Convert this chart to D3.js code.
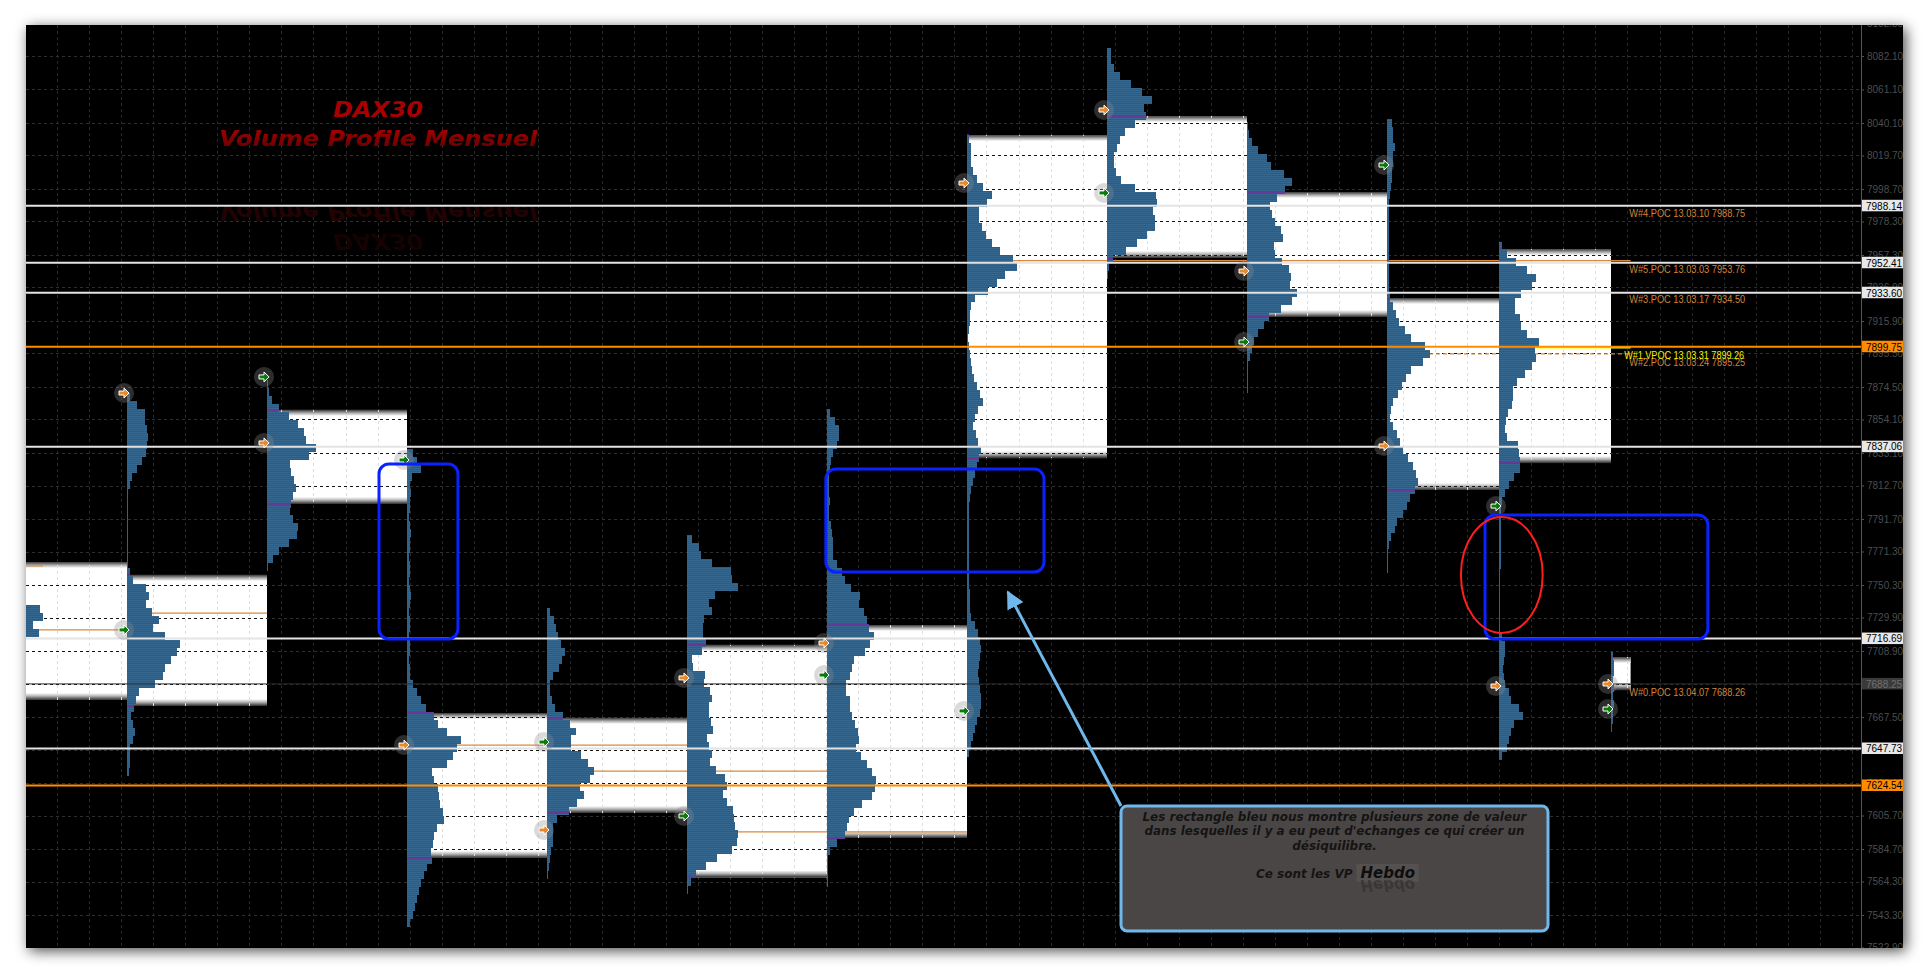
<!DOCTYPE html>
<html>
<head>
<meta charset="utf-8">
<script src="https://cdn.jsdelivr.net/npm/d3@7/dist/d3.min.js"></script>
<style>
  html, body { margin:0; padding:0; background:#ffffff; overflow:hidden; }
  svg { display:block; }
</style>
</head>
<body>
<svg id="chart" width="1931" height="974"></svg>
<script>
// ================= DATA =================
// right price-axis tick labels
const tickValues = [8102.50, 8082.10, 8061.10, 8040.10, 8019.70, 7998.70, 7978.30, 7957.30, 7936.90,
  7915.90, 7895.50, 7874.50, 7854.10, 7833.10, 7812.70, 7791.70, 7771.30, 7750.30, 7729.90, 7708.90,
  7688.50, 7667.50, 7647.10, 7626.10, 7605.70, 7584.70, 7564.30, 7543.30, 7522.90];

// weekly volume profiles (trading-day index of start / end of each week)
const periodStart = [-5, 0, 5, 10, 15, 20, 25, 30, 35, 40, 45, 49, 53];
const periodEnd   = [0, 5, 10, 15, 20, 25, 30, 35, 40, 45, 49, 53, 53.7];
// value area high / low of each week
const vaHigh = [7764.7, 7756.6, 7860.1, 7670.0, 7666.9, 7712.7, 7725.2, 8032.5, 8044.4, 7996.8, 7930.3, 7961.0, 7705.1];
const vaLow  = [7678.2, 7674.4, 7801.1, 7579.1, 7607.3, 7566.9, 7591.6, 7829.9, 7955.4, 7918.4, 7809.9, 7826.8, 7684.4];
// highest price level of each histogram
const histTop = [7742.8, 7870.7, 7878.9, 7835.6, 7735.9, 7781.6, 7860.7, 8032.5, 8087.1, 8040.7, 8042.6, 7965.4, 7708.3];
const binSize = 5; // points per histogram row
// open / close of each week
const openPrice  = [null, 7722.1, 7880.8, 7828.7, 7651.8, 7605.4, 7693.8, 7671.3, 7996.2, 7902.7, 8013.7, 7799.8, 7672.5];
const closePrice = [null, 7870.7, 7839.4, 7649.9, 7596.6, 7692.0, 7713.9, 8002.4, 8048.2, 7947.2, 7837.5, 7686.9, 7688.2];

// volume per price row, top to bottom
const vol0  = [30, 53, 56, 46, 52, 30, 20, 10];
const vol1  = [3,10,18,18,20,21,20,19,15,10,5,3,1,1,1,1,1,1,1,1,1,1,3,6,19,22,19,25,32,26,38,53,50,44,38,36,28,12,9,7,4,6,8,6,3,3,3,2];
const vol2  = [1,2,5,12,22,31,37,39,49,42,23,24,27,29,26,24,23,26,31,30,22,12,6,1];
const vol3  = [6,10,14,5,3,4,3,3,2,3,4,3,3,2,3,3,2,3,4,3,2,3,3,2,3,3,2,3,3,6,10,14,19,27,31,40,54,50,46,40,25,27,31,32,33,36,37,30,27,26,24,25,20,17,14,12,10,8,6,3];
const vol4  = [3,7,9,11,14,18,15,12,6,3,3,5,8,16,23,29,24,24,34,41,47,43,33,37,30,22,10,6,6,6,4,3,2,1];
const vol5  = [5,12,14,25,44,45,51,28,22,25,17,16,16,19,15,5,6,18,17,23,25,22,22,24,26,20,22,25,23,29,38,40,36,40,46,47,48,51,50,45,30,19,9,4,1];
const vol6  = [3,8,12,12,10,6,4,3,2,2,2,3,2,2,4,5,6,6,6,10,15,18,24,33,32,37,40,42,47,43,38,27,25,23,19,19,23,23,25,28,31,32,29,34,40,45,49,48,45,35,27,22,20,18,10,3,1,1,1,1];
const vol7  = [2,4,4,4,6,10,16,25,20,12,12,15,19,25,33,46,50,38,30,21,8,4,3,3,2,1,2,3,4,5,7,10,13,16,11,8,6,9,11,14,12,
               10,8,6,4,3,2,2,2,2,2,2,2,2,2,2,2,3,3,3,4,8,11,13,14,13,12,11,12,13,14,14,13,10,8,6,4,2];
const vol8  = [4,4,7,13,24,35,45,37,39,28,18,13,10,7,7,9,14,28,49,50,46,48,48,40,30,19,6,2,1];
const vol9  = [1,2,5,11,20,24,37,45,38,30,23,25,28,34,36,27,28,35,42,44,43,50,45,34,22,17,11,7,5,3,1,1,1,1];
const vol10 = [5,6,6,8,6,6,5,5,4,3,2,2,2,2,2,2,2,2,2,2,2,2,3,6,9,12,18,24,38,43,36,24,19,15,11,6,4,3,6,10,13,16,21,26,29,31,28,23,20,16,10,8,4,2,1,1,1];
const vol11 = [3,8,17,28,37,33,22,16,16,21,22,28,40,36,37,33,26,18,14,14,13,9,7,6,8,19,20,21,21,15,10,6,3,2,2,2,2,2,2,2,2,1,1,1,1,1,1,1,1,3,6,6,5,4,5,6,10,12,20,24,15,12,10,8,3];
const vol12 = [2,3,3,2,3,2,3,2,2,1];
const volumes = [vol0, vol1, vol2, vol3, vol4, vol5, vol6, vol7, vol8, vol9, vol10, vol11, vol12];

// horizontal reference levels across the whole chart
const levelPrice = [7988.14, 7952.41, 7933.60, 7899.75, 7837.06, 7716.69, 7688.25, 7647.73, 7624.54];
const levelKind  = ['white', 'white', 'white', 'orange', 'white', 'white', 'dark', 'white', 'orange'];

// POC segments
const pocSegPrice = [7762.2, 7722.1, 7732.7, 7649.9, 7633.6, 7595.4, 7953.76, 7895.25, 7899.26];
const pocSegFrom  = [-5, -5, 0, 10, 15, 20, 30, 45, 49];
const pocSegTo    = [-3, 0, 5, 20, 25, 30, 53.7, 53.7, 53.7];
const pocSegKind  = ['poc', 'poc', 'poc', 'poc', 'poc', 'poc', 'poc', 'dash', 'vpoc'];

// POC labels (right side)
const pocLabelText  = ['W#4.POC 13.03.10 7988.75', 'W#5.POC 13.03.03 7953.76', 'W#3.POC 13.03.17 7934.50',
                       'W#2.POC 13.03.24 7895.25', 'W#1.VPOC 13.03.31 7899.26', 'W#0.POC 13.04.07 7688.26'];
const pocLabelPrice = [7988.75, 7953.76, 7934.50, 7895.25, 7899.26, 7688.26];
const pocLabelKind  = ['poc', 'poc', 'poc', 'poc', 'vpoc', 'poc'];

// texts
const titleLines = ['DAX30', 'Volume Profile Mensuel'];
const noteLines = ['Les rectangle bleu nous montre plusieurs zone de valeur',
                   "dans lesquelles il y a eu peut d'echanges ce qui créer un",
                   'désiquilibre.'];
const noteLast = ['Ce sont les VP', 'Hebdo'];

// annotation shapes in data space (trading day / price)
const blueBoxDay0   = [9.0, 24.96, 48.5];
const blueBoxDay1   = [11.82, 32.75, 56.46];
const blueBoxPrice0 = [7826.2, 7823.0, 7794.2];
const blueBoxPrice1 = [7716.4, 7758.4, 7716.4];

// ================= CHART =================
const svg = d3.select('#chart');
const frame = {x0: 26, y0: 25, x1: 1903, y1: 948};
const plotRight = 1861;

const x = d3.scaleLinear().domain([0, 54]).range([127, 1639]);
const y = d3.scaleLinear().domain([7543.3, 8082.1]).range([915, 56]);
const vx = d3.scaleLinear().domain([0, 100]).range([0, 100]);

const defs = svg.append('defs');
const sh = defs.append('filter').attr('id', 'shadow')
  .attr('x', '-3%').attr('y', '-5%').attr('width', '106%').attr('height', '110%');
sh.append('feDropShadow').attr('dx', 3).attr('dy', 3).attr('stdDeviation', 7)
  .attr('flood-color', '#000').attr('flood-opacity', 0.7);

defs.append('clipPath').attr('id', 'plotClip').append('rect')
  .attr('x', frame.x0).attr('y', frame.y0).attr('width', plotRight - frame.x0).attr('height', frame.y1 - frame.y0);
defs.append('clipPath').attr('id', 'frameClip').append('rect')
  .attr('x', frame.x0).attr('y', frame.y0).attr('width', frame.x1 - frame.x0).attr('height', frame.y1 - frame.y0);

const pat = defs.append('pattern').attr('id', 'histPat').attr('width', 4).attr('height', 2)
  .attr('patternUnits', 'userSpaceOnUse');
pat.append('rect').attr('width', 4).attr('height', 2).attr('fill', '#35678f');
pat.append('rect').attr('y', 1).attr('width', 4).attr('height', 1).attr('fill', '#2d5b82');

const gTop = defs.append('linearGradient').attr('id', 'vaTop').attr('x1', 0).attr('y1', 0).attr('x2', 0).attr('y2', 1);
gTop.append('stop').attr('offset', 0).attr('stop-color', '#3a3a3a');
gTop.append('stop').attr('offset', 0.5).attr('stop-color', '#a8a8a8');
gTop.append('stop').attr('offset', 1).attr('stop-color', '#ffffff');
const gBot = defs.append('linearGradient').attr('id', 'vaBot').attr('x1', 0).attr('y1', 0).attr('x2', 0).attr('y2', 1);
gBot.append('stop').attr('offset', 0).attr('stop-color', '#ffffff');
gBot.append('stop').attr('offset', 0.45).attr('stop-color', '#b4b4b4');
gBot.append('stop').attr('offset', 1).attr('stop-color', '#2c2c2c');
const gTitle = defs.append('linearGradient').attr('id', 'titleGrad').attr('x1', 0).attr('y1', 0).attr('x2', 0).attr('y2', 1);
gTitle.append('stop').attr('offset', 0).attr('stop-color', '#b00000');
gTitle.append('stop').attr('offset', 1).attr('stop-color', '#5e0000');

const arrowM = defs.append('marker').attr('id', 'noteArrow').attr('viewBox', '0 0 10 10')
  .attr('refX', 9).attr('refY', 5).attr('markerWidth', 6).attr('markerHeight', 6)
  .attr('orient', 'auto').attr('markerUnits', 'strokeWidth');
arrowM.append('path').attr('d', 'M0,0 L10,5 L0,10 Z').attr('fill', '#70b8ec');

// box clip for on-box grid
const boxClip = defs.append('clipPath').attr('id', 'boxClip');
volumes.forEach((v, i) => {
  boxClip.append('rect').attr('x', x(periodStart[i])).attr('y', y(vaHigh[i]))
    .attr('width', x(periodEnd[i]) - x(periodStart[i])).attr('height', y(vaLow[i]) - y(vaHigh[i]));
});

// frame
svg.append('rect').attr('x', 0).attr('y', 0).attr('width', 1931).attr('height', 974).attr('fill', '#ffffff');
svg.append('rect').attr('x', frame.x0).attr('y', frame.y0)
  .attr('width', frame.x1 - frame.x0).attr('height', frame.y1 - frame.y0)
  .attr('fill', '#030303').attr('filter', 'url(#shadow)');

const plot = svg.append('g').attr('clip-path', 'url(#plotClip)');

// grid
const vGridX = d3.range(frame.x0 - 1 + 32.05, plotRight, 32.05);
function drawGrid(g, vColor, hColor) {
  g.selectAll('line.v').data(vGridX).join('line').attr('class', 'v')
    .attr('x1', d => Math.round(d) + 0.5).attr('x2', d => Math.round(d) + 0.5)
    .attr('y1', frame.y0).attr('y2', frame.y1)
    .attr('stroke', vColor).attr('stroke-width', 1).attr('stroke-dasharray', '3,3');
  g.selectAll('line.h').data(tickValues).join('line').attr('class', 'h')
    .attr('x1', frame.x0).attr('x2', plotRight)
    .attr('y1', d => Math.round(y(d)) + 0.5).attr('y2', d => Math.round(y(d)) + 0.5)
    .attr('stroke', hColor).attr('stroke-width', 1).attr('stroke-dasharray', '3,3');
}
drawGrid(plot.append('g'), '#272727', '#2e2e2e');

// title + reflection
const titleG = plot.append('g').attr('font-family', "'DejaVu Sans', Verdana, sans-serif")
  .attr('font-weight', 'bold').attr('font-style', 'italic').attr('text-anchor', 'middle');
const titleX = 378, titleBase = [117, 146], titleSize = [22, 22], titleLen = [90, 318];
const refl = titleG.append('g').attr('transform', 'translate(0,351) scale(1,-1)');
titleLines.forEach((t, i) => {
  refl.append('text').attr('x', titleX).attr('y', titleBase[i]).attr('font-size', titleSize[i])
    .attr('textLength', titleLen[i]).attr('lengthAdjust', 'spacingAndGlyphs')
    .attr('fill', i === 0 ? '#160202' : '#220303').text(t);
});
titleLines.forEach((t, i) => {
  titleG.append('text').attr('x', titleX).attr('y', titleBase[i]).attr('font-size', titleSize[i])
    .attr('textLength', titleLen[i]).attr('lengthAdjust', 'spacingAndGlyphs')
    .attr('fill', i === 0 ? '#a80000' : 'url(#titleGrad)').text(t);
});

// value-area boxes
const boxG = plot.append('g');
volumes.forEach((v, i) => {
  const x0 = x(periodStart[i]), x1 = x(periodEnd[i]);
  const yT = y(vaHigh[i]), yB = y(vaLow[i]);
  boxG.append('rect').attr('x', x0).attr('y', yT).attr('width', x1 - x0).attr('height', yB - yT).attr('fill', '#ffffff');
  boxG.append('rect').attr('x', x0).attr('y', yT).attr('width', x1 - x0).attr('height', 6).attr('fill', 'url(#vaTop)');
  boxG.append('rect').attr('x', x0).attr('y', yB - 7).attr('width', x1 - x0).attr('height', 7).attr('fill', 'url(#vaBot)');
});
drawGrid(plot.append('g').attr('clip-path', 'url(#boxClip)'), '#dedede', '#141414');

// POC segments
pocSegPrice.forEach((p, i) => {
  const k = pocSegKind[i];
  plot.append('line')
    .attr('x1', x(pocSegFrom[i])).attr('x2', x(pocSegTo[i]))
    .attr('y1', y(p)).attr('y2', y(p))
    .attr('stroke', k === 'vpoc' ? '#ffff00' : '#d8893f')
    .attr('stroke-width', k === 'vpoc' ? 2 : 1.2)
    .attr('stroke-dasharray', k === 'dash' ? '4,3' : null);
});

// histograms
const histG = plot.append('g').attr('shape-rendering', 'crispEdges');
volumes.forEach((vals, i) => {
  histG.append('g').selectAll('rect').data(vals).join('rect')
    .attr('x', x(periodStart[i]))
    .attr('y', (d, j) => y(histTop[i] - j * binSize))
    .attr('width', d => vx(d))
    .attr('height', (d, j) => y(histTop[i] - (j + 1) * binSize) - y(histTop[i] - j * binSize))
    .attr('fill', 'url(#histPat)');
  // value area edge marks
  [vaHigh[i], vaLow[i]].forEach(p => {
    const j = Math.floor((histTop[i] - p) / binSize);
    if (j >= 0 && j < vals.length) {
      plot.append('line').attr('x1', x(periodStart[i])).attr('x2', x(periodStart[i]) + vx(vals[j]))
        .attr('y1', y(p)).attr('y2', y(p)).attr('stroke', '#7b2a9e').attr('stroke-width', 1.5);
    }
  });
});

// full-width levels
const levelColor = {white: '#e4e4e4', orange: '#ff8c00', dark: '#2c2c2c'};
const levelWidth = {white: 2, orange: 2, dark: 1};
levelPrice.forEach((p, i) => {
  plot.append('line').attr('x1', frame.x0).attr('x2', plotRight)
    .attr('y1', y(p)).attr('y2', y(p))
    .attr('stroke', levelColor[levelKind[i]]).attr('stroke-width', levelWidth[levelKind[i]]);
});

// open / close markers
const arrowPath = 'M-5,-2 L0,-2 L0,-5 L5,0 L0,5 L0,2 L-5,2 Z';
function marker(day, price, color) {
  const g = plot.append('g').attr('transform', `translate(${x(day) - 3},${y(price)})`);
  g.append('circle').attr('r', 10).attr('fill', 'rgba(140,140,140,0.32)');
  g.append('path').attr('d', arrowPath).attr('fill', color).attr('stroke', '#ffffff').attr('stroke-width', 1);
}
periodStart.forEach((d, i) => {
  if (openPrice[i] != null) marker(d, openPrice[i], '#0b7a0b');
  if (closePrice[i] != null) marker(d, closePrice[i], '#e8892b');
});

// POC labels
pocLabelText.forEach((t, i) => {
  const k = pocLabelKind[i];
  plot.append('text')
    .attr('x', x(k === 'vpoc' ? 53.47 : 53.65)).attr('y', y(pocLabelPrice[i]) + 12)
    .attr('font-family', "'Liberation Sans', Arial, sans-serif").attr('font-size', 10.5)
    .attr('textLength', k === 'vpoc' ? 120 : 116).attr('lengthAdjust', 'spacingAndGlyphs')
    .attr('fill', k === 'vpoc' ? '#f2f200' : '#d2843c').text(t);
});

// annotations: blue rectangles
blueBoxDay0.forEach((d, i) => {
  plot.append('rect').attr('x', x(d)).attr('y', y(blueBoxPrice0[i]))
    .attr('width', x(blueBoxDay1[i]) - x(d)).attr('height', y(blueBoxPrice1[i]) - y(blueBoxPrice0[i]))
    .attr('rx', 10).attr('fill', 'none').attr('stroke', '#0a22ff').attr('stroke-width', 3);
});
// red ellipse
plot.append('ellipse').attr('cx', x(49.1)).attr('cy', y(7756.6))
  .attr('rx', x(49.1 + 1.46) - x(49.1)).attr('ry', y(7756.6 - 36.4) - y(7756.6))
  .attr('fill', 'none').attr('stroke', '#ff1e1e').attr('stroke-width', 2);

// callout arrow + box
plot.append('line').attr('x1', x(35.5)).attr('y1', y(7611.7)).attr('x2', x(31.46)).attr('y2', y(7745.9))
  .attr('stroke', '#70b8ec').attr('stroke-width', 3).attr('marker-end', 'url(#noteArrow)');
const nx0 = x(35.5), nx1 = x(50.75), ny0 = y(7611.7), ny1 = y(7533.3);
plot.append('rect').attr('x', nx0).attr('y', ny0).attr('width', nx1 - nx0).attr('height', ny1 - ny0)
  .attr('rx', 6).attr('fill', '#4a4646').attr('stroke', '#70b8ec').attr('stroke-width', 3);
const ncx = (nx0 + nx1) / 2;
const noteG = plot.append('g').attr('font-family', "'DejaVu Sans', Verdana, sans-serif")
  .attr('font-weight', 'bold').attr('font-style', 'italic').attr('fill', '#141414');
const noteLen = [384, 380, null];
noteLines.forEach((t, i) => {
  const tx = noteG.append('text').attr('x', ncx).attr('y', ny0 + 15 + i * 14.5).attr('text-anchor', 'middle')
    .attr('font-size', 12).text(t);
  if (noteLen[i]) tx.attr('textLength', noteLen[i]).attr('lengthAdjust', 'spacingAndGlyphs');
});
noteG.append('text').attr('x', ncx + 18).attr('y', ny0 + 72).attr('text-anchor', 'end')
  .attr('font-size', 12).text(noteLast[0]);
noteG.append('rect').attr('x', ncx + 22).attr('y', ny0 + 58).attr('width', 62).attr('height', 18)
  .attr('fill', '#5a5656').attr('opacity', 0.7);
noteG.append('text').attr('x', ncx + 26).attr('y', ny0 + 72).attr('font-size', 15).attr('fill', '#0e0e0e').text(noteLast[1]);
noteG.append('text').attr('transform', `translate(0,${2 * (ny0 + 73)}) scale(1,-1)`)
  .attr('x', ncx + 26).attr('y', ny0 + 72).attr('font-size', 15).attr('fill', '#2a2a2a').attr('opacity', 0.55).text(noteLast[1]);

// ================= AXIS =================
const axisG = svg.append('g').attr('clip-path', 'url(#frameClip)');
axisG.append('line').attr('x1', plotRight + 0.5).attr('x2', plotRight + 0.5).attr('y1', frame.y0).attr('y2', frame.y1)
  .attr('stroke', '#555555').attr('stroke-width', 1);
const axis = d3.axisRight(y).tickValues(tickValues).tickFormat(d3.format('.2f')).tickSize(3).tickPadding(3);
const ax = axisG.append('g').attr('transform', `translate(${plotRight},0)`).call(axis);
ax.select('.domain').remove();
ax.selectAll('.tick line').attr('stroke', '#555555');
ax.selectAll('.tick text').attr('fill', '#4d4d4d').attr('font-size', 10)
  .attr('font-family', "'Liberation Sans', Arial, sans-serif");

// level labels on axis
const lblFill = {white: '#e8e8e8', orange: '#ff8c00', dark: '#3a3a3a'};
const lblText = {white: '#000000', orange: '#000000', dark: '#707070'};
levelPrice.forEach((p, i) => {
  const k = levelKind[i];
  axisG.append('rect').attr('x', plotRight + 1).attr('y', y(p) - 6).attr('width', 41).attr('height', 11.5)
    .attr('fill', lblFill[k]);
  axisG.append('text').attr('x', plotRight + 5).attr('y', y(p) + 3.8)
    .attr('font-family', "'Liberation Sans', Arial, sans-serif").attr('font-size', 10)
    .attr('fill', lblText[k]).text(d3.format('.2f')(p));
});
</script>
</body>
</html>
